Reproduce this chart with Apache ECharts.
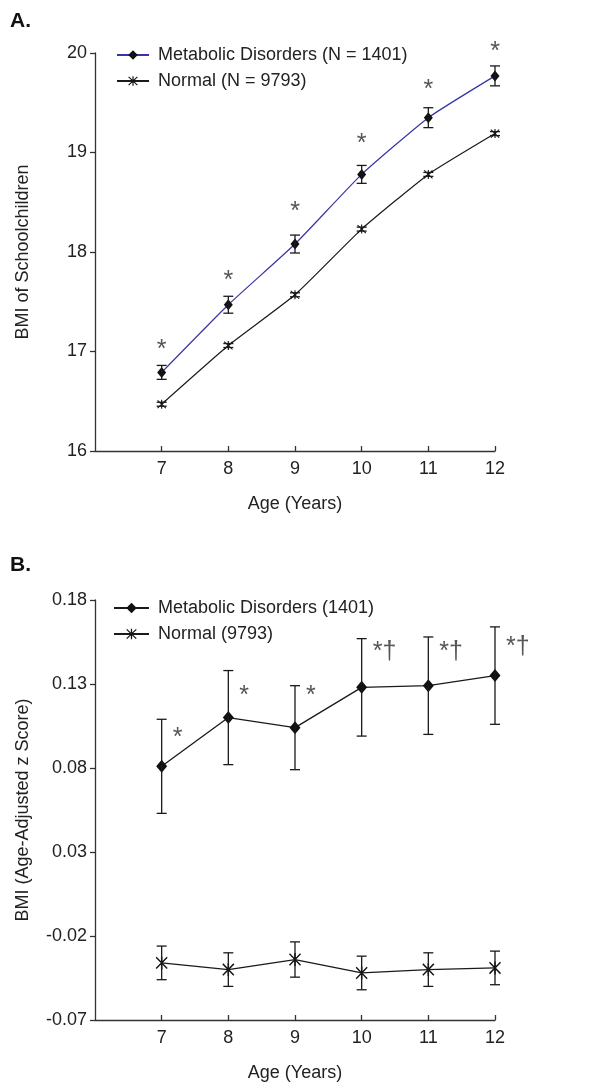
<!DOCTYPE html>
<html>
<head>
<meta charset="utf-8">
<script src="https://cdn.jsdelivr.net/npm/echarts@6/dist/echarts.min.js"></script>
<style>
  html, body { margin: 0; padding: 0; background: #fff; }
  #chart { width: 607px; height: 1084px; }
</style>
</head>
<body>
<div id="chart"></div>
<script>
// ages on the x axis
var ages = [7, 8, 9, 10, 11, 12];
var xTicks = [7, 8, 9, 10, 11, 12];

// panel A: BMI of schoolchildren (mean, +/- error)
var bmiMetabolic = [16.79, 17.47, 18.08, 18.78, 19.35, 19.77];
var bmiMetabolicErr = [0.07, 0.085, 0.09, 0.09, 0.1, 0.1];
var bmiNormal = [16.47, 17.06, 17.57, 18.23, 18.78, 19.19];
var bmiNormalErr = [0.02, 0.02, 0.02, 0.02, 0.02, 0.02];
var yTicksA = [16, 17, 18, 19, 20];
var sigA = ['*', '*', '*', '*', '*', '*'];
var sigAY = [17.06, 17.76, 18.45, 19.13, 19.68, 20.06];

// panel B: age-adjusted z score
var zMetabolic = [0.081, 0.110, 0.104, 0.128, 0.129, 0.135];
var zMetabolicErr = [0.028, 0.028, 0.025, 0.029, 0.029, 0.029];
var zNormal = [-0.036, -0.040, -0.034, -0.042, -0.040, -0.039];
var zNormalErr = [0.010, 0.010, 0.0105, 0.010, 0.010, 0.010];
var yTicksB = [-0.07, -0.02, 0.03, 0.08, 0.13, 0.18];
var sigB = ['*', '*', '*', '*\u2020', '*\u2020', '*\u2020'];
var sigBY = [0.101, 0.126, 0.126, 0.152, 0.152, 0.155];

var FONT = "'Liberation Sans', Arial, Helvetica, sans-serif";
var INK = '#1a1a1a';
var STAR = 'path://M4.4,0H5.6V10H4.4Z M0.9,0.2 L9.9,9.0 L9.1,9.8 L0.1,1.0Z M9.1,0.2 L9.9,1.0 L0.9,9.8 L0.1,9.0Z';

function pairs(xs, ys) {
  return xs.map(function (x, i) { return [x, ys[i]]; });
}
function bars(xs, m, e) {
  return xs.map(function (x, i) { return [x, m[i] - e[i], m[i] + e[i]]; });
}

function errorBarItem(params, api) {
  var x = api.value(0);
  var top = api.coord([x, api.value(2)]);
  var bot = api.coord([x, api.value(1)]);
  var hw = 5;
  var st = { stroke: INK, lineWidth: 1.3 };
  return {
    type: 'group',
    children: [
      { type: 'line', shape: { x1: top[0], y1: top[1], x2: bot[0], y2: bot[1] }, style: st },
      { type: 'line', shape: { x1: top[0] - hw, y1: top[1], x2: top[0] + hw, y2: top[1] }, style: st },
      { type: 'line', shape: { x1: bot[0] - hw, y1: bot[1], x2: bot[0] + hw, y2: bot[1] }, style: st }
    ]
  };
}

function sigItem(labels, dx, align) {
  return function (params, api) {
    var p = api.coord([api.value(0), api.value(1)]);
    return {
      type: 'text',
      style: {
        text: labels[params.dataIndex],
        x: p[0] + dx, y: p[1] + 5,
        fill: '#555', font: '25px ' + FONT,
        align: align, verticalAlign: 'middle'
      }
    };
  };
}

function xAxisFor(idx) {
  return {
    type: 'value', gridIndex: idx, min: 6, max: 12,
    name: 'Age (Years)', nameLocation: 'middle', nameGap: 44,
    nameTextStyle: { fontSize: 18, color: '#222', fontFamily: FONT },
    axisLine: { onZero: false, lineStyle: { color: '#333', width: 1.3 } },
    axisTick: { inside: true, length: 5, customValues: xTicks, lineStyle: { color: '#333', width: 1.3 } },
    axisLabel: { customValues: xTicks, fontSize: 18, color: '#222', fontFamily: FONT, margin: 9 },
    splitLine: { show: false }
  };
}

function yAxisFor(idx, min, max, ticks, name, fmt) {
  return {
    type: 'value', gridIndex: idx, min: min, max: max,
    name: name, nameLocation: 'middle', nameGap: 63,
    nameTextStyle: { fontSize: 18, color: '#222', fontFamily: FONT },
    axisLine: { show: true, onZero: false, lineStyle: { color: '#333', width: 1.3 } },
    axisTick: { show: true, length: 5, customValues: ticks, lineStyle: { color: '#333', width: 1.3 } },
    axisLabel: { customValues: ticks, fontSize: 18, color: '#222', fontFamily: FONT, margin: 8, formatter: fmt },
    splitLine: { show: false }
  };
}

var myChart = echarts.init(document.getElementById('chart'));
var option = {
  backgroundColor: '#fff',
  animation: false,
  title: [
    { text: 'A.', left: 5, top: 6, textStyle: { fontSize: 21, fontWeight: 'bold', color: '#111', fontFamily: FONT } },
    { text: 'B.', left: 5, top: 550, textStyle: { fontSize: 21, fontWeight: 'bold', color: '#111', fontFamily: FONT } }
  ],
  grid: [
    { left: 95, top: 53, width: 400, height: 398 },
    { left: 95, top: 600, width: 400, height: 420 }
  ],
  legend: [
    {
      data: ['Metabolic Disorders (N = 1401)', 'Normal (N = 9793)'],
      orient: 'vertical', left: 116, top: 46, padding: 0, itemWidth: 32, itemHeight: 12, itemGap: 8,
      textStyle: { fontSize: 18, color: '#222', fontFamily: FONT, padding: [0, 0, 0, 4] }
    },
    {
      data: ['Metabolic Disorders (1401)', 'Normal (9793)'],
      orient: 'vertical', left: 113, top: 599, padding: 0, itemWidth: 35, itemHeight: 13, itemGap: 8,
      textStyle: { fontSize: 18, color: '#222', fontFamily: FONT, padding: [0, 0, 0, 4] }
    }
  ],
  xAxis: [xAxisFor(0), xAxisFor(1)],
  yAxis: [
    yAxisFor(0, 16, 20, yTicksA, 'BMI of Schoolchildren', function (v) { return String(Math.round(v)); }),
    yAxisFor(1, -0.07, 0.18, yTicksB, 'BMI (Age-Adjusted z Score)', function (v) { return v.toFixed(2); })
  ],
  series: [
    // panel A
    {
      name: 'Metabolic Disorders (N = 1401)', type: 'line', xAxisIndex: 0, yAxisIndex: 0,
      data: pairs(ages, bmiMetabolic), smooth: 0.15,
      symbol: 'diamond', symbolSize: [9, 11],
      lineStyle: { color: '#3535a5', width: 1.2 }, itemStyle: { color: '#111' }, z: 3
    },
    {
      name: 'Normal (N = 9793)', type: 'line', xAxisIndex: 0, yAxisIndex: 0,
      data: pairs(ages, bmiNormal), smooth: 0.15,
      symbol: STAR, symbolSize: [9, 9],
      lineStyle: { color: INK, width: 1.2 }, itemStyle: { color: '#111' }, z: 3
    },
    { type: 'custom', xAxisIndex: 0, yAxisIndex: 0, renderItem: errorBarItem, data: bars(ages, bmiMetabolic, bmiMetabolicErr), encode: { x: 0, y: [1, 2] }, z: 4 },
    { type: 'custom', xAxisIndex: 0, yAxisIndex: 0, renderItem: errorBarItem, data: bars(ages, bmiNormal, bmiNormalErr), encode: { x: 0, y: [1, 2] }, z: 4 },
    { type: 'custom', xAxisIndex: 0, yAxisIndex: 0, renderItem: sigItem(sigA, 0, 'center'), data: pairs(ages, sigAY), encode: { x: 0, y: 1 }, z: 5 },

    // panel B
    {
      name: 'Metabolic Disorders (1401)', type: 'line', xAxisIndex: 1, yAxisIndex: 1,
      data: pairs(ages, zMetabolic),
      symbol: 'diamond', symbolSize: [11, 13],
      lineStyle: { color: INK, width: 1.3 }, itemStyle: { color: '#111' }, z: 3
    },
    {
      name: 'Normal (9793)', type: 'line', xAxisIndex: 1, yAxisIndex: 1,
      data: pairs(ages, zNormal),
      symbol: STAR, symbolSize: [12, 13],
      lineStyle: { color: INK, width: 1.3 }, itemStyle: { color: '#111' }, z: 3
    },
    { type: 'custom', xAxisIndex: 1, yAxisIndex: 1, renderItem: errorBarItem, data: bars(ages, zMetabolic, zMetabolicErr), encode: { x: 0, y: [1, 2] }, z: 4 },
    { type: 'custom', xAxisIndex: 1, yAxisIndex: 1, renderItem: errorBarItem, data: bars(ages, zNormal, zNormalErr), encode: { x: 0, y: [1, 2] }, z: 4 },
    { type: 'custom', xAxisIndex: 1, yAxisIndex: 1, renderItem: sigItem(sigB, 11, 'left'), data: pairs(ages, sigBY), encode: { x: 0, y: 1 }, z: 5 }
  ]
};
myChart.setOption(option);
</script>
</body>
</html>
